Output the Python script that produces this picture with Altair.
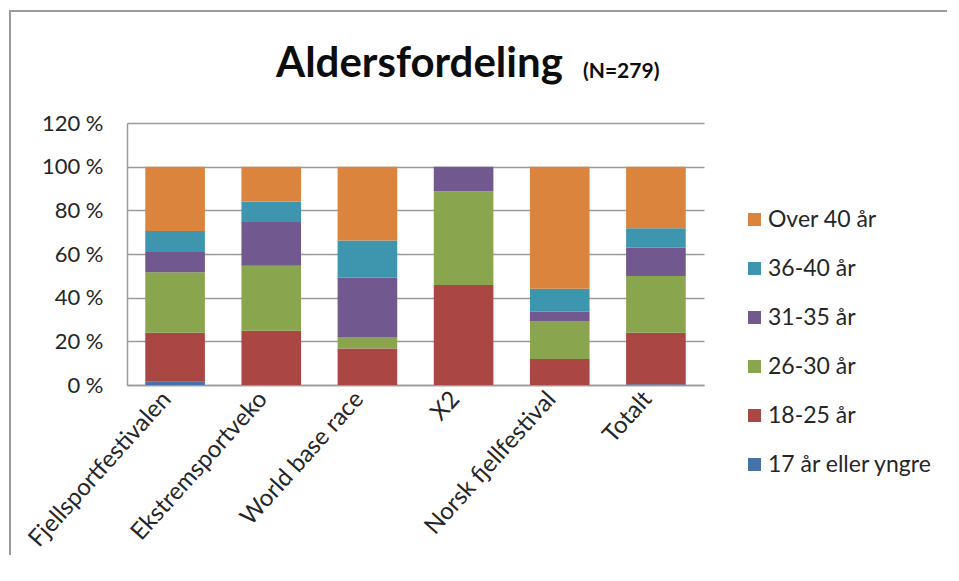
import altair as alt
import pandas as pd

categories = ["Fjellsportfestivalen", "Ekstremsportveko", "World base race", "X2", "Norsk fjellfestival", "Totalt"]
age_groups = ["17 år eller yngre", "18-25 år", "26-30 år", "31-35 år", "36-40 år", "Over 40 år"]
v_17 = [1.5, 0.0, 0.0, 0.0, 0.0, 0.4]
v_18_25 = [22.4, 24.8, 16.7, 45.8, 11.9, 23.5]
v_26_30 = [27.7, 29.8, 5.3, 42.9, 17.2, 26.0]
v_31_35 = [9.3, 20.1, 27.2, 11.3, 4.4, 13.0]
v_36_40 = [9.6, 9.3, 17.0, 0.0, 10.6, 8.9]
v_over40 = [29.5, 16.0, 33.8, 0.0, 55.9, 28.2]
colors = ["#4572A7", "#AA4643", "#89A54E", "#71588F", "#3D96AE", "#DB843D"]
title_main = "Aldersfordeling"
title_sub = "(N=279)"

series = [v_17, v_18_25, v_26_30, v_31_35, v_36_40, v_over40]
rows = []
for gi, (g, vals) in enumerate(zip(age_groups, series)):
    for c, v in zip(categories, vals):
        rows.append({"kategori": c, "alder": g, "andel": v, "rek": gi})
df = pd.DataFrame(rows)

FONT = "Lato"
TXT = "#262626"
GRID = "#9a9a9a"

legend_order = list(reversed(age_groups))
legend_colors = list(reversed(colors))

bars = alt.Chart(df).mark_bar().encode(
    x=alt.X("kategori:N", sort=categories, title=None,
            scale=alt.Scale(paddingInner=0.38, paddingOuter=0.19),
            axis=alt.Axis(labelAngle=-48, labelAlign="right", labelBaseline="middle",
                          labelFontSize=24, labelFont=FONT, labelColor=TXT,
                          labelPadding=10, labelOffset=-8, ticks=False,
                          domainColor=GRID, domainWidth=1.5, labelLimit=400)),
    y=alt.Y("andel:Q", stack="zero", title=None,
            scale=alt.Scale(domain=[0, 120], nice=False),
            axis=alt.Axis(values=[0, 20, 40, 60, 80, 100, 120],
                          labelExpr="datum.value + ' %'",
                          labelFontSize=22, labelFont=FONT, labelColor=TXT,
                          labelPadding=24, ticks=False,
                          gridColor=GRID, gridWidth=1.3,
                          domainColor=GRID, domainWidth=1.5)),
    color=alt.Color("alder:N",
                    scale=alt.Scale(domain=legend_order, range=legend_colors),
                    legend=alt.Legend(title=None, orient="none", legendX=616, legendY=85,
                                      symbolType="square", symbolSize=170,
                                      symbolStrokeWidth=0, labelFontSize=23,
                                      labelFont=FONT, labelColor=TXT,
                                      labelOffset=2, rowPadding=25,
                                      labelLimit=300)),
    order=alt.Order("rek:Q", sort="ascending"),
)

t1 = alt.Chart(alt.Data(values=[{"t": title_main}])).mark_text(
    font=FONT, fontSize=42, fontWeight="bold", color="#0d0d0d",
    align="left", baseline="alphabetic"
).encode(text="t:N", x=alt.value(149), y=alt.value(-46))

t2 = alt.Chart(alt.Data(values=[{"t": title_sub}])).mark_text(
    font=FONT, fontSize=21, fontWeight="bold", color="#0d0d0d",
    align="left", baseline="alphabetic"
).encode(text="t:N", x=alt.value(456), y=alt.value(-45))

frame = alt.Chart(alt.Data(values=[{"a": 1}])).mark_rect(
    fill=None, stroke="#9b9b9b", strokeWidth=2
).encode(x=alt.value(-117), x2=alt.value(900), y=alt.value(-112), y2=alt.value(500))

chart = alt.layer(frame, bars, t1, t2).properties(
    width=577, height=262,
    autosize=alt.AutoSizeParams(type="none"),
    padding={"left": 119, "top": 115, "right": 243, "bottom": 170},
    background="white",
).configure_view(stroke=None)

chart.save("out.html", embed_options={"renderer": "svg", "actions": False})
